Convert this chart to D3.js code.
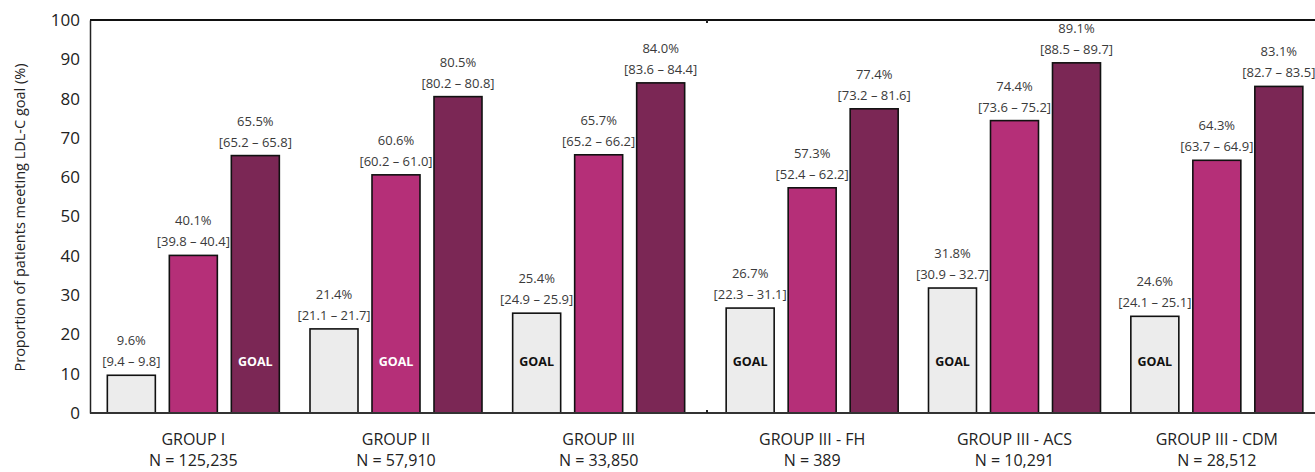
<!DOCTYPE html>
<html>
<head>
<meta charset="utf-8">
<script src="https://cdn.jsdelivr.net/npm/d3@7"></script>
<style>
  body { margin: 0; background: #fff; }
  text { font-family: "Open Sans", sans-serif; }
</style>
</head>
<body>
<script>
  // data
  var groups = ["GROUP I", "GROUP II", "GROUP III", "GROUP III - FH", "GROUP III - ACS", "GROUP III - CDM"];
  var nLabels = ["N = 125,235", "N = 57,910", "N = 33,850", "N = 389", "N = 10,291", "N = 28,512"];
  var series1 = [9.6, 21.4, 25.4, 26.7, 31.8, 24.6];
  var series2 = [40.1, 60.6, 65.7, 57.3, 74.4, 64.3];
  var series3 = [65.5, 80.5, 84.0, 77.4, 89.1, 83.1];
  var lower1 = [9.4, 21.1, 24.9, 22.3, 30.9, 24.1];
  var upper1 = [9.8, 21.7, 25.9, 31.1, 32.7, 25.1];
  var lower2 = [39.8, 60.2, 65.2, 52.4, 73.6, 63.7];
  var upper2 = [40.4, 61.0, 66.2, 62.2, 75.2, 64.9];
  var lower3 = [65.2, 80.2, 83.6, 73.2, 88.5, 82.7];
  var upper3 = [65.8, 80.8, 84.4, 81.6, 89.7, 83.5];
  var goalIndex = [2, 1, 0, 0, 0, 0];
  var yTicks = [0, 10, 20, 30, 40, 50, 60, 70, 80, 90, 100];

  var colors = ["#ececec", "#b52f78", "#7b2755"];
  var goalColors = ["#111", "#fff", "#fff"];

  var width = 1315, height = 472;
  var plotTop = 20, plotBottom = 413, plotLeft = 90;

  var svg = d3.select("body").append("svg")
    .attr("width", width)
    .attr("height", height);

  var y = d3.scaleLinear().domain([0, 100]).range([plotBottom, plotTop]);

  // two panels side by side
  var xLeft = d3.scaleBand().domain(groups.slice(0, 3)).range([92, 700]);
  var xRight = d3.scaleBand().domain(groups.slice(3)).range([711, 1318]);
  function gx(g) {
    var s = xLeft.domain().indexOf(g) >= 0 ? xLeft : xRight;
    return s(g) + s.bandwidth() / 2;
  }
  var inner = d3.scaleBand().domain([0, 1, 2]).range([-93, 93])
    .paddingInner(14 / 62).paddingOuter(7 / 62);

  var rows = [];
  groups.forEach(function(g, i) {
    var vals = [series1[i], series2[i], series3[i]];
    var lo = [lower1[i], lower2[i], lower3[i]];
    var hi = [upper1[i], upper2[i], upper3[i]];
    vals.forEach(function(v, k) {
      rows.push({group: g, k: k, value: v, lo: lo[k], hi: hi[k], goal: goalIndex[i] === k});
    });
  });

  // y axis
  var yAxis = svg.append("g")
    .attr("transform", "translate(" + plotLeft + ",0)")
    .call(d3.axisLeft(y).tickValues(yTicks).tickSize(0).tickPadding(10));
  yAxis.select(".domain").attr("stroke", "#222").attr("stroke-width", 1.5);
  yAxis.selectAll("text")
    .style("font-family", "'Open Sans', sans-serif")
    .attr("font-size", 17).attr("fill", "#222");

  // frame top
  svg.append("line").attr("x1", plotLeft).attr("x2", width).attr("y1", plotTop).attr("y2", plotTop)
    .attr("stroke", "#111").attr("stroke-width", 2);

  var bars = svg.append("g");
  bars.selectAll("rect").data(rows).enter().append("rect")
    .attr("x", function(d) { return gx(d.group) + inner(d.k); })
    .attr("width", inner.bandwidth())
    .attr("y", function(d) { return y(d.value); })
    .attr("height", function(d) { return y(0) - y(d.value); })
    .attr("fill", function(d) { return colors[d.k]; })
    .attr("stroke", "#111")
    .attr("stroke-width", 1.6);

  var labels = svg.append("g").attr("text-anchor", "middle").attr("fill", "#3a3a3a").attr("font-size", 13);
  labels.selectAll("text.val").data(rows).enter().append("text")
    .attr("class", "val")
    .attr("x", function(d) { return gx(d.group) + inner(d.k) + inner.bandwidth() / 2; })
    .attr("y", function(d) { return y(d.value) - 30; })
    .text(function(d) { return d.value.toFixed(1) + "%"; });
  labels.selectAll("text.ci").data(rows).enter().append("text")
    .attr("class", "ci")
    .attr("x", function(d) { return gx(d.group) + inner(d.k) + inner.bandwidth() / 2; })
    .attr("y", function(d) { return y(d.value) - 9; })
    .text(function(d) { return "[" + d.lo.toFixed(1) + " \u2013 " + d.hi.toFixed(1) + "]"; });

  svg.append("g").selectAll("text").data(rows.filter(function(d) { return d.goal; }))
    .enter().append("text")
    .attr("x", function(d) { return gx(d.group) + inner(d.k) + inner.bandwidth() / 2; })
    .attr("y", 366)
    .attr("text-anchor", "middle")
    .attr("font-size", 12.5)
    .attr("font-weight", "bold")
    .attr("fill", function(d) { return goalColors[d.k]; })
    .text("GOAL");

  svg.append("line").attr("x1", plotLeft).attr("x2", width).attr("y1", plotBottom).attr("y2", plotBottom)
    .attr("stroke", "#333").attr("stroke-width", 2);

  // little marks where the two panels meet
  svg.append("line").attr("x1", 707).attr("x2", 707).attr("y1", plotTop).attr("y2", plotTop + 3)
    .attr("stroke", "#222").attr("stroke-width", 2);
  svg.append("line").attr("x1", 707).attr("x2", 707).attr("y1", plotBottom - 3).attr("y2", plotBottom)
    .attr("stroke", "#222").attr("stroke-width", 2);

  // category labels
  var cat = svg.append("g").attr("text-anchor", "middle").attr("fill", "#222").attr("font-size", 16);
  cat.selectAll("text.g").data(groups).enter().append("text")
    .attr("class", "g")
    .attr("x", gx).attr("y", 445)
    .text(function(d) { return d; });
  cat.selectAll("text.n").data(groups).enter().append("text")
    .attr("class", "n")
    .attr("x", gx).attr("y", 466)
    .text(function(d, i) { return nLabels[i]; });

  svg.append("text")
    .attr("transform", "translate(25," + ((plotTop + plotBottom) / 2 + 1) + ") rotate(-90)")
    .attr("text-anchor", "middle")
    .attr("font-size", 14.5)
    .attr("fill", "#222")
    .text("Proportion of patients meeting LDL-C goal (%)");
</script>
</body>
</html>
